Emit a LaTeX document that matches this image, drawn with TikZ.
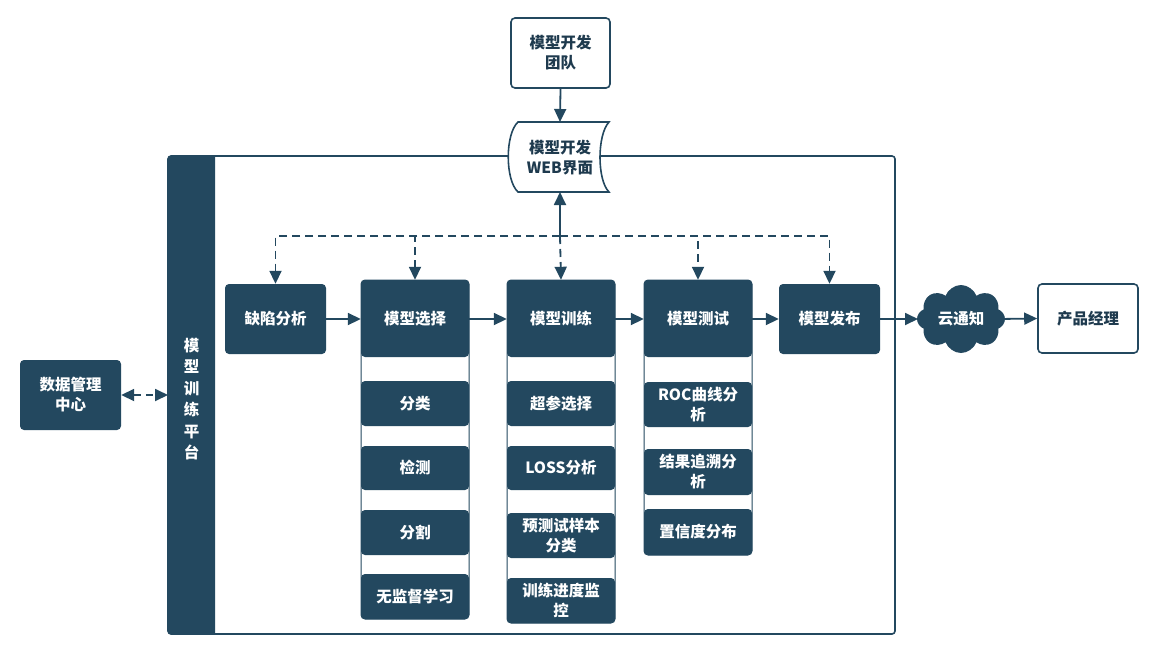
\documentclass[tikz,border=0pt]{standalone}
\usepackage{fontspec}
\setmainfont{Noto Sans CJK SC}
\usetikzlibrary{arrows.meta,shapes.symbols}
\definecolor{navy}{HTML}{23485F}
\definecolor{ink}{HTML}{1E3A4E}
\begin{document}
\begin{tikzpicture}[x=1pt,y=-1pt,
  txt/.style={font=\fontsize{15.5}{20}\selectfont\bfseries, align=center, inner sep=0pt},
  dbox/.style={txt, fill=navy, text=white, rounded corners=4pt},
  wbox/.style={txt, draw=navy, line width=1.6pt, fill=white, text=ink, rounded corners=4pt},
  col/.style={draw=navy, line width=1pt, fill=white, rounded corners=4pt},
  tip/.tip={Triangle[length=13pt,width=12pt]},
  conn/.style={navy, line width=1.8pt, -tip},
  dconn/.style={conn, dash pattern=on 8pt off 5pt}
]
\useasboundingbox (0,0) rectangle (1157,646);
% platform frame
\draw[navy, line width=1.6pt, rounded corners=3pt] (168,156) rectangle (895,634);
\fill[navy] (215,156) {[rounded corners=3pt] -- (168,156) -- (168,634)} -- (215,634) -- cycle;
\node[txt, text=white, font=\fontsize{15.5}{21.5}\selectfont\bfseries] (platform) at (191.5,399) {模\\型\\训\\练\\平\\台};

% data centre
\node[dbox, minimum width=101pt, minimum height=70pt] (data) at (70.5,395) {数据管理\\中心};
\draw[dconn, tip-tip, dash pattern=on 7pt off 5pt] (data.east) -- (168,395) coordinate (pl);

% dev team and web
\node[wbox, minimum width=99pt, minimum height=70pt] (team) at (560.5,53) {模型开发\\团队};
\fill[white] (518,122) -- (609,122) .. controls (597,135) and (597,180) .. (609,192) -- (518,192) .. controls (505,180) and (505,134) .. cycle;
\draw[navy, line width=1.6pt] (518,122) -- (609,122) .. controls (597,135) and (597,180) .. (609,192) -- (518,192) .. controls (505,180) and (505,134) .. cycle;
\node[txt, text=ink, minimum width=100pt, minimum height=70pt] (web) at (560,158) {模型开发\\WEB界面};
\draw[conn] (team.south) -- (560,122);

% junction
\coordinate (j) at (560,236);
\draw[conn] (j) -- (560,192);

% columns
\draw[col] (361,280) rectangle (469,619);
\draw[col] (507,280) rectangle (615,623);
\draw[col] (644,280) rectangle (752,555);

\node[dbox, minimum width=101pt, minimum height=70pt] (defect) at (275.5,319) {缺陷分析};
\node[dbox, minimum width=108pt, minimum height=77pt] (select) at (415,318.5) {模型选择};
\node[dbox, minimum width=108pt, minimum height=77pt] (train) at (561,318.5) {模型训练};
\node[dbox, minimum width=108pt, minimum height=77pt] (test) at (698,318.5) {模型测试};
\node[dbox, minimum width=101pt, minimum height=70pt] (publish) at (829.5,319) {模型发布};

\node[dbox, minimum width=108pt, minimum height=45pt] (s1) at (415,403.5) {分类};
\node[dbox, minimum width=108pt, minimum height=44pt] (s2) at (415,468) {检测};
\node[dbox, minimum width=108pt, minimum height=45pt] (s3) at (415,532.5) {分割};
\node[dbox, minimum width=108pt, minimum height=45pt] (s4) at (415,596.5) {无监督学习};

\node[dbox, minimum width=108pt, minimum height=45pt] (t1) at (561,403.5) {超参选择};
\node[dbox, minimum width=108pt, minimum height=44pt] (t2) at (561,468) {LOSS分析};
\node[dbox, minimum width=108pt, minimum height=45pt] (t3) at (561,535.5) {预测试样本\\分类};
\node[dbox, minimum width=108pt, minimum height=45pt] (t4) at (561,600.5) {训练进度监\\控};

\node[dbox, minimum width=108pt, minimum height=45pt] (e1) at (698,404.5) {ROC曲线分\\析};
\node[dbox, minimum width=108pt, minimum height=46pt] (e2) at (698,472) {结果追溯分\\析};
\node[dbox, minimum width=108pt, minimum height=46pt] (e3) at (698,532) {置信度分布};

\node[txt, shape=cloud, cloud puffs=8, cloud puff arc=140, aspect=1.25, fill=navy, text=white, minimum width=88pt, minimum height=68pt] (cloud) at (961,319) {云通知};
\node[wbox, minimum width=100pt, minimum height=69pt] (pm) at (1088,318.5) {产品经理};

% dashed feedback
\draw[dconn] (j) -| (defect.north);
\draw[dconn] (j) -| (select.north);
\draw[dconn] (j) -- (train.north);
\draw[dconn] (j) -| (test.north);
\draw[dconn] (j) -| (publish.north);

% main flow
\draw[conn] (defect.east) -- (defect.east -| select.west);
\draw[conn] (select.east |- defect.east) -- (defect.east -| train.west);
\draw[conn] (train.east |- defect.east) -- (defect.east -| test.west);
\draw[conn] (test.east |- defect.east) -- (publish.west);
\draw[conn] (publish.east) -- (918,319);
\draw[conn] (998,319) -- (pm.west);
\end{tikzpicture}
\end{document}
